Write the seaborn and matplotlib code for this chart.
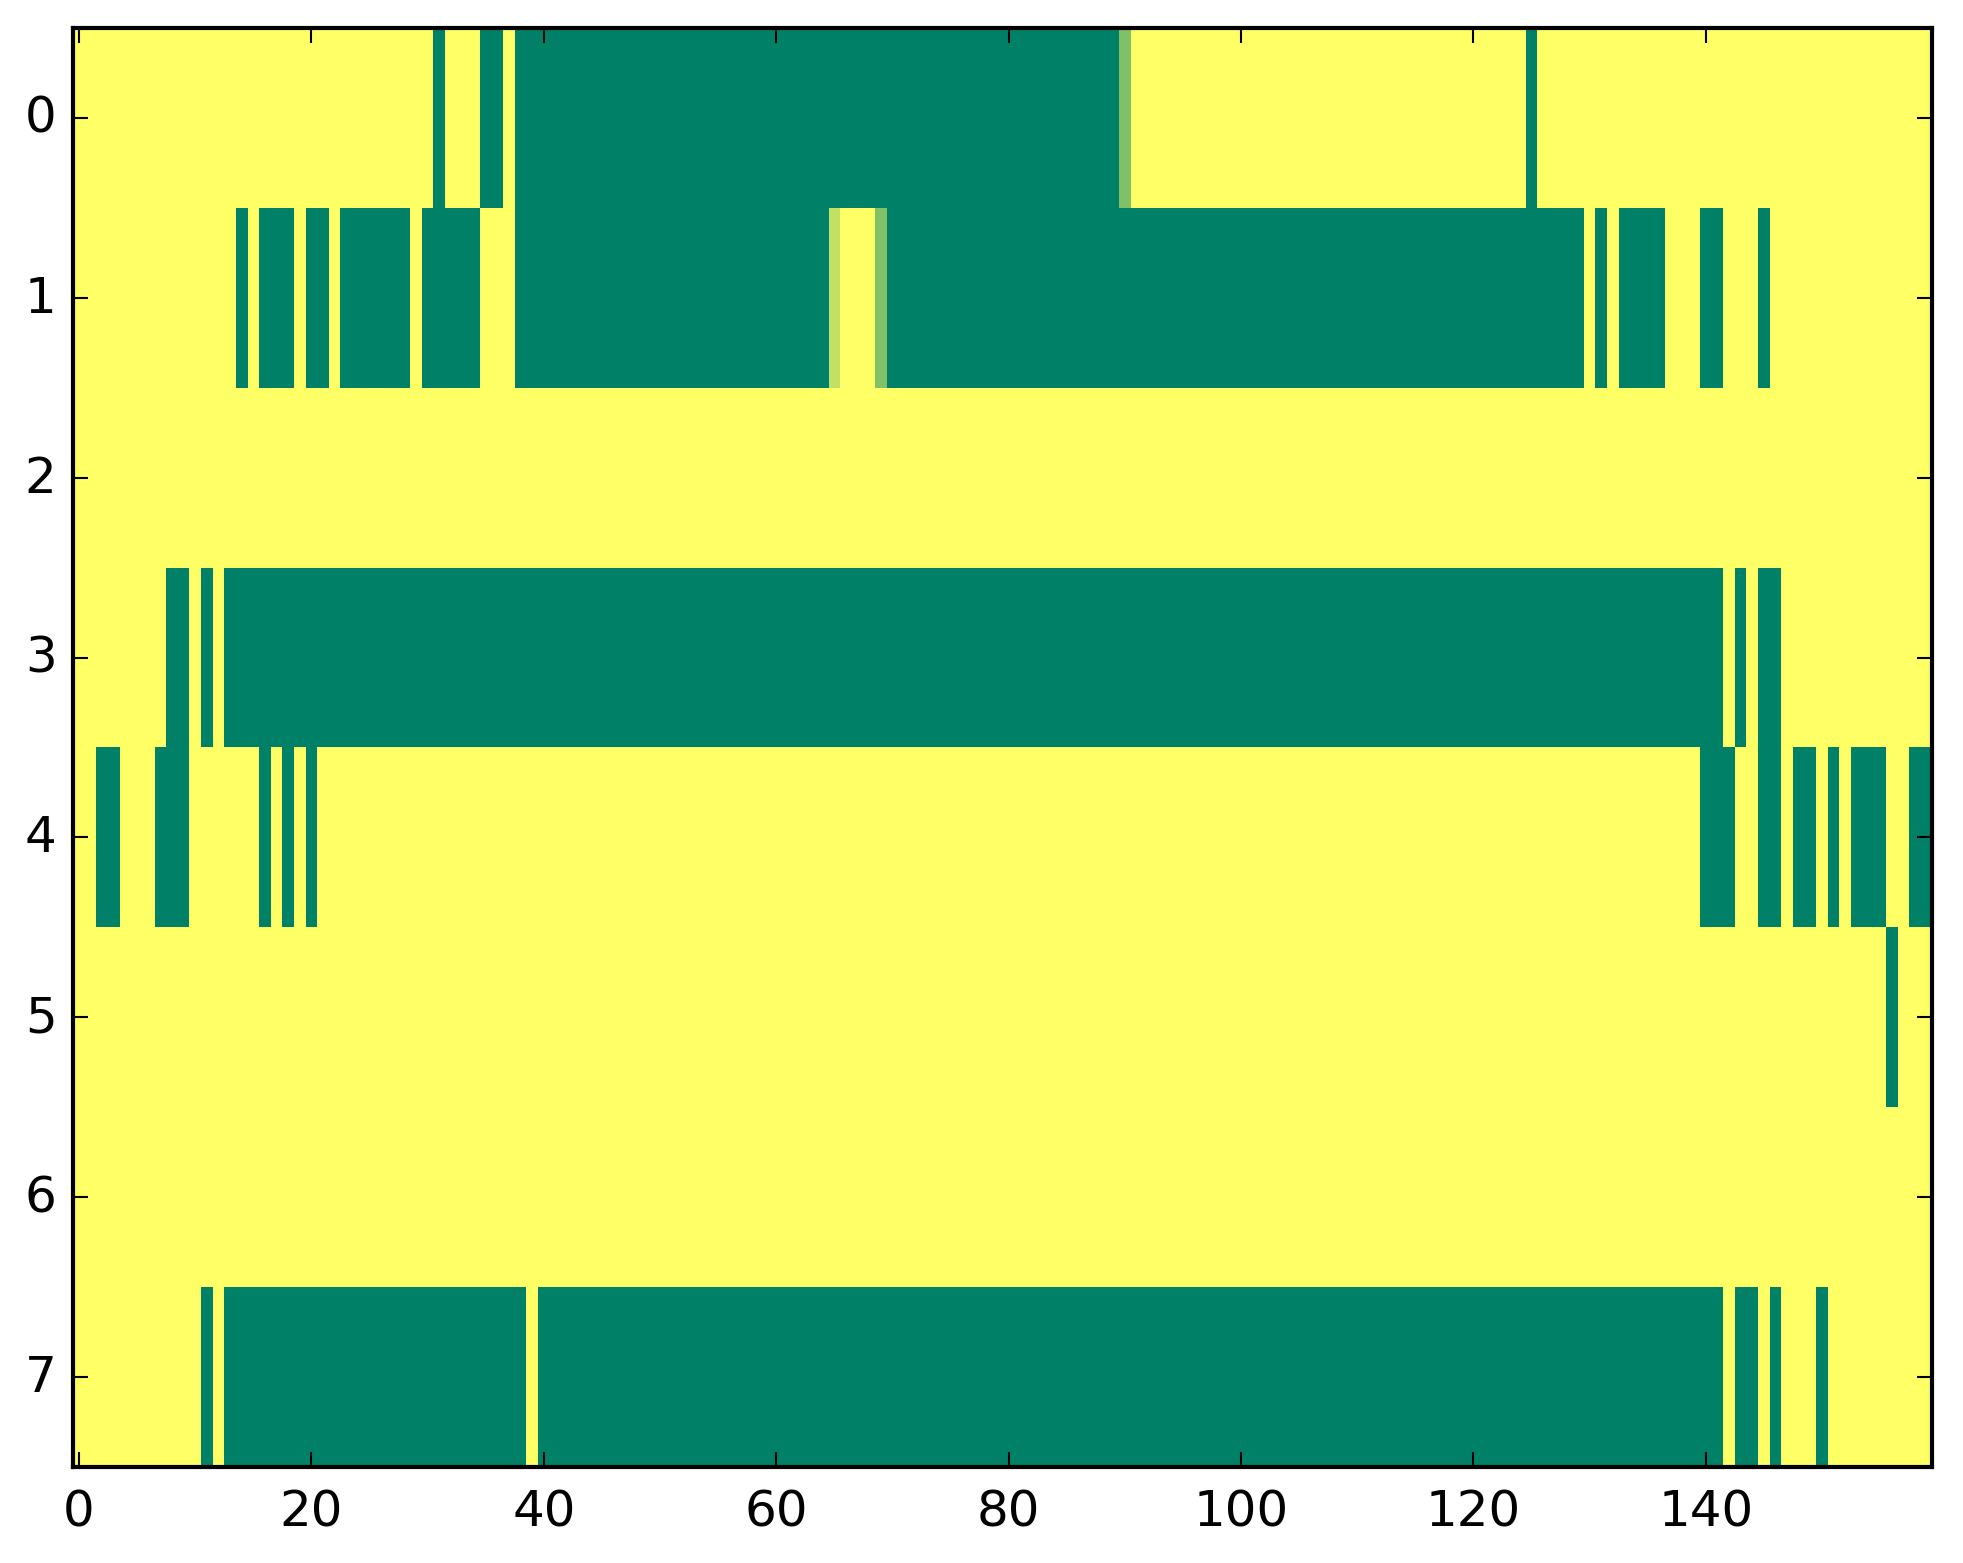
import numpy as np
import pandas as pd
import matplotlib
matplotlib.use("Agg")
import matplotlib.pyplot as plt
import seaborn as sns

# Run-length encoded rows: (value, run length); 160 columns per row
row0 = [(1, 31), (0, 1), (1, 3), (0, 2), (1, 1), (0, 52), (0.5, 1), (1, 34), (0, 1), (1, 34)]
row1 = [(1, 14), (0, 1), (1, 1), (0, 3), (1, 1), (0, 2), (1, 1), (0, 6), (1, 1), (0, 5),
        (1, 3), (0, 27), (0.75, 1), (1, 3), (0.5, 1), (0, 60), (1, 1), (0, 1), (1, 1), (0, 4),
        (1, 3), (0, 2), (1, 3), (0, 1), (1, 14)]
row2 = [(1, 160)]
row3 = [(1, 8), (0, 2), (1, 1), (0, 1), (1, 1), (0, 129), (1, 1), (0, 1), (1, 1), (0, 2), (1, 13)]
row4 = [(1, 2), (0, 2), (1, 3), (0, 3), (1, 6), (0, 1), (1, 1), (0, 1), (1, 1), (0, 1),
        (1, 119), (0, 3), (1, 2), (0, 2), (1, 1), (0, 2), (1, 1), (0, 1), (1, 1), (0, 3),
        (1, 2), (0, 2)]
row5 = [(1, 156), (0, 1), (1, 3)]
row6 = [(1, 160)]
row7 = [(1, 11), (0, 1), (1, 1), (0, 26), (1, 1), (0, 102), (1, 1), (0, 2), (1, 1), (0, 1),
        (1, 3), (0, 1), (1, 9)]

rows = [row0, row1, row2, row3, row4, row5, row6, row7]
x_tick_values = [0, 20, 40, 60, 80, 100, 120, 140]
y_tick_values = [0, 1, 2, 3, 4, 5, 6, 7]


def expand(runs):
    out = []
    for v, n in runs:
        out.extend([v] * n)
    return out


data = pd.DataFrame([expand(r) for r in rows])

fig = plt.figure(figsize=(1963 / 300, 1564 / 300), dpi=300)
ax = fig.add_axes([0.0373, 0.0614, 0.9471, 0.9201])

sns.heatmap(data, ax=ax, cmap="summer", vmin=0, vmax=1, cbar=False,
            xticklabels=False, yticklabels=False, linewidths=0)

for s in ax.spines.values():
    s.set_visible(True)
    s.set_linewidth(1.0)
    s.set_color("black")

ax.set_xticks(np.array(x_tick_values) + 0.5)
ax.set_xticklabels([str(v) for v in x_tick_values], rotation=0)
ax.set_yticks(np.array(y_tick_values) + 0.5)
ax.set_yticklabels([str(v) for v in y_tick_values], rotation=0, va="center")

ax.tick_params(axis="both", direction="in", top=True, right=True, bottom=True, left=True,
               length=3.5, width=0.5, labelsize=12, colors="black")
ax.tick_params(axis="x", pad=5)
ax.tick_params(axis="y", pad=4)
ax.set_xlabel("")
ax.set_ylabel("")

fig.savefig("out.png", dpi=300)
